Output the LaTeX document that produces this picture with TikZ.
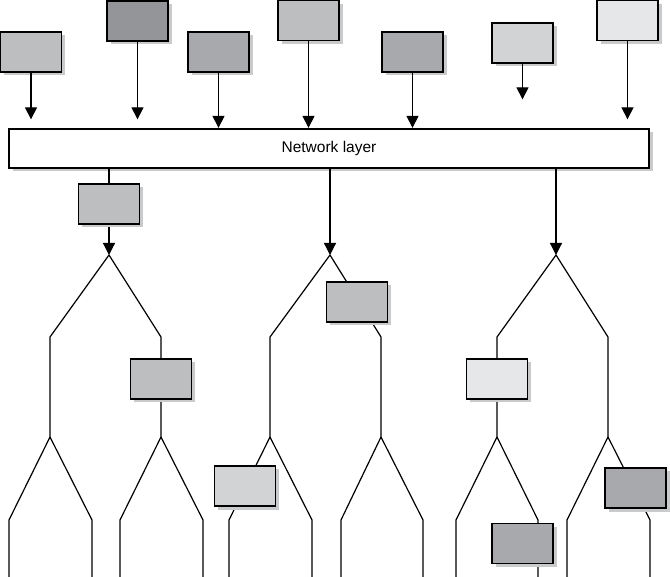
\documentclass[tikz,border=0pt]{standalone}
\usepackage{fontspec}
\setmainfont{Liberation Sans}
\usepackage{tikz}
\usetikzlibrary{arrows.meta,shadows}
\definecolor{gA}{HTML}{939598}
\definecolor{gB}{HTML}{A7A9AC}
\definecolor{gC}{HTML}{BCBEC0}
\definecolor{gD}{HTML}{D1D3D4}
\definecolor{gE}{HTML}{E6E7E8}
\definecolor{shd}{HTML}{C9CACC}
\tikzset{
  bx/.style={rectangle, draw, line width=1.3pt, minimum width=61pt, minimum height=40pt, inner sep=0pt,
    drop shadow={shadow xshift=3.5pt, shadow yshift=-3.5pt, fill=shd, opacity=1}},
  lyr/.style={rectangle, draw, fill=white, line width=1.3pt, minimum width=640pt, minimum height=39pt,
    drop shadow={shadow xshift=3.5pt, shadow yshift=-3.5pt, fill=shd, opacity=1}},
  >={Triangle[length=12pt,width=12pt]}
}

\begin{document}
\begin{tikzpicture}[x=1pt, y=-1pt, line width=1.2pt, every node/.style={font=\fontsize{15.5}{18}\selectfont}]
  \useasboundingbox (0,0) rectangle (670,577);
  % sources
  \node[bx, fill=gC] (s1) at (31,52) {};
  \node[bx, fill=gA] (s2) at (137.5,21) {};
  \node[bx, fill=gB] (s3) at (218.5,52) {};
  \node[bx, fill=gC] (s4) at (308.5,20.5) {};
  \node[bx, fill=gB] (s5) at (412.5,52) {};
  \node[bx, fill=gD] (s6) at (522.5,43) {};
  \node[bx, fill=gE] (s7) at (627.5,20.5) {};
  \node[lyr] (net) at (329,148.5) {Network layer};
  % arrows into the layer
  \draw[->, shorten >=9pt] (s1) -- (s1 |- net.north);
  \draw[->, shorten >=9pt] (s2) -- (s2 |- net.north);
  \draw[->, shorten >=0.5pt] (s3) -- (s3 |- net.north);
  \draw[->, shorten >=0.5pt] (s4) -- (s4 |- net.north);
  \draw[->, shorten >=0.5pt] (s5) -- (s5 |- net.north);
  \draw[->, shorten >=29pt] (s6) -- (s6 |- net.north);
  \draw[->, shorten >=9pt] (s7) -- (s7 |- net.north);
  % tree 1
  \coordinate (t1) at (109,255);
  \coordinate (a1) at (50,337);  \coordinate (a1f) at (50,437);
  \coordinate (b1) at (161,337); \coordinate (b1f) at (161,437);
  \draw[->] (net.south -| t1) -- (t1);
  \draw (a1f) -- (a1) -- (t1) -- (b1) -- (b1f);
  \draw (a1f) -- ++(-41,83) -- ++(0,57) (a1f) -- ++(42,83) -- ++(0,57);
  \draw (b1f) -- ++(-41,83) -- ++(0,57) (b1f) -- ++(42,83) -- ++(0,57);
  % tree 2
  \coordinate (t2) at (330,255);
  \coordinate (a2) at (270,337); \coordinate (a2f) at (270,437);
  \coordinate (b2) at (381,337); \coordinate (b2f) at (381,437);
  \draw[->] (net.south -| t2) -- (t2);
  \draw (a2f) -- (a2) -- (t2) -- (b2) -- (b2f);
  \draw (a2f) -- ++(-41,83) -- ++(0,57) (a2f) -- ++(42,83) -- ++(0,57);
  \draw (b2f) -- ++(-40,83) -- ++(0,57) (b2f) -- ++(42,83) -- ++(0,57);
  % tree 3
  \coordinate (t3) at (556,255);
  \coordinate (a3) at (497,337); \coordinate (a3f) at (497,437);
  \coordinate (b3) at (608,337); \coordinate (b3f) at (608,437);
  \draw[->] (net.south -| t3) -- (t3);
  \draw (a3f) -- (a3) -- (t3) -- (b3) -- (b3f);
  \draw (a3f) -- ++(-41,83) -- ++(0,57) (a3f) -- ++(41,83) -- ++(0,57);
  \draw (b3f) -- ++(-41,83) -- ++(0,57) (b3f) -- ++(42,83) -- ++(0,57);
  % boxes on the branches
  \node[bx, fill=gC] (h1) at (109,204) {};
  \node[bx, fill=gC] (h2) at (161,379) {};
  \node[bx, fill=gC] (h3) at (357,302) {};
  \node[bx, fill=gD] (h4) at (245,486) {};
  \node[bx, fill=gE] (h5) at (497,379) {};
  \node[bx, fill=gB] (h6) at (522.5,543.5) {};
  \node[bx, fill=gB] (h7) at (635.5,488) {};
\end{tikzpicture}
\end{document}
